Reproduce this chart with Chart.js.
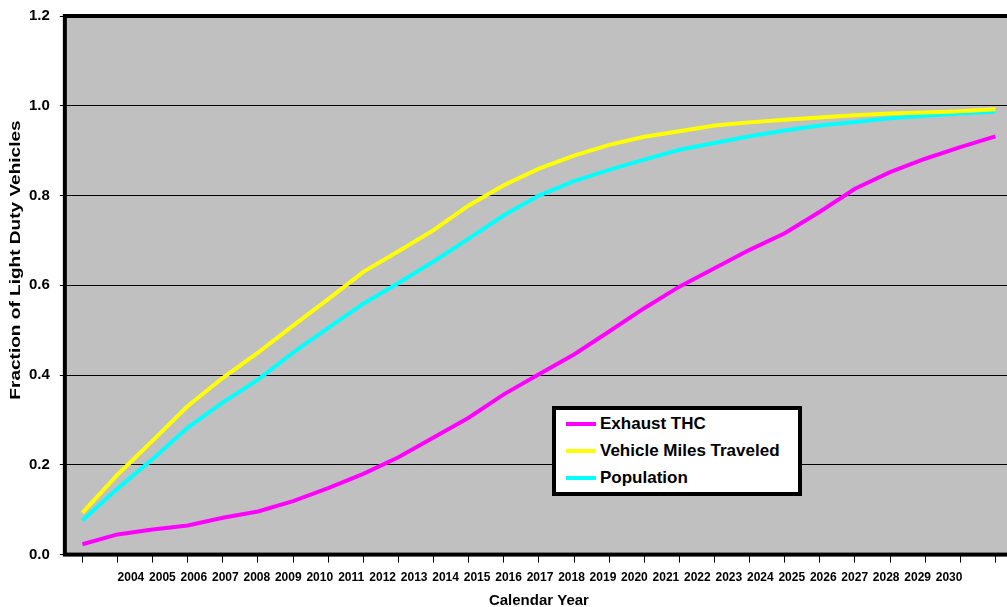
<!DOCTYPE html>
<html>
<head>
<meta charset="utf-8">
<script src="https://cdn.jsdelivr.net/npm/chart.js@4"></script>
<style>
    html, body { margin: 0; padding: 0; background: #fff; overflow: hidden; }
    #wrap { position: relative; width: 1016px; height: 610px; }
    #legend {
        position: absolute; left: 552px; top: 406px;
        width: 232px; height: 81px;
        border: 4px solid #000; background: #fff;
        padding: 1px 0 0 10px; box-sizing: content-box;
        font: bold 17px "Liberation Sans", Arial, sans-serif;
    }
    #legend .row { height: 26.7px; display: flex; align-items: center; white-space: nowrap; }
    #legend .swatch { width: 30px; height: 4px; margin-right: 4px; }
</style>
</head>
<body>
<div id="wrap">
    <canvas id="chart" width="1016" height="610"></canvas>
    <div id="legend"></div>
</div>
<script>
const years = ["2004", "2005", "2006", "2007", "2008", "2009", "2010", "2011", "2012",
    "2013", "2014", "2015", "2016", "2017", "2018", "2019", "2020", "2021", "2022",
    "2023", "2024", "2025", "2026", "2027", "2028", "2029", "2030"];

const exhaustTHC = [0.023, 0.045, 0.056, 0.065, 0.082, 0.096, 0.119, 0.148, 0.180,
    0.217, 0.261, 0.305, 0.357, 0.402, 0.446, 0.497, 0.549, 0.597, 0.638,
    0.679, 0.716, 0.764, 0.815, 0.852, 0.882, 0.908, 0.932];

const vehicleMiles = [0.093, 0.178, 0.254, 0.331, 0.394, 0.450, 0.510, 0.569, 0.630,
    0.676, 0.723, 0.778, 0.823, 0.860, 0.889, 0.913, 0.931, 0.943, 0.956,
    0.963, 0.969, 0.974, 0.979, 0.983, 0.985, 0.988, 0.992];

const population = [0.076, 0.147, 0.213, 0.283, 0.339, 0.390, 0.450, 0.505, 0.559,
    0.605, 0.653, 0.704, 0.756, 0.800, 0.832, 0.857, 0.880, 0.902, 0.917,
    0.932, 0.945, 0.956, 0.964, 0.972, 0.978, 0.983, 0.987];

// year labels sit on their own axis, squeezed like in the original picture
const labelAxisMin = 2001.9;
const labelAxisMax = 2032.03;

const FONT = "'Liberation Sans', Arial, sans-serif";

const plotFrame = {
    id: "plotFrame",
    beforeDraw(chart) {
        const { ctx, chartArea: a } = chart;
        ctx.save();
        ctx.fillStyle = "#C0C0C0";
        ctx.fillRect(a.left, a.top, a.right - a.left, a.bottom - a.top);
        ctx.restore();
    },
    afterDatasetsDraw(chart) {
        const { ctx, chartArea: a } = chart;
        ctx.save();
        ctx.strokeStyle = "#000";
        ctx.lineWidth = 4;
        ctx.strokeRect(a.left, a.top, a.right - a.left, a.bottom - a.top);
        ctx.restore();
    },
    afterDraw(chart) {
        // y title, stretched along its length like the original
        const ctx = chart.ctx;
        ctx.save();
        ctx.translate(16, 260);
        ctx.rotate(-Math.PI / 2);
        ctx.scale(1.36, 1);
        ctx.font = "bold 14px " + FONT;
        ctx.fillStyle = "#000";
        ctx.textAlign = "center";
        ctx.textBaseline = "middle";
        ctx.fillText("Fraction of Light Duty Vehicles", 0, 0);
        ctx.restore();
    }
};

const chart = new Chart(document.getElementById("chart").getContext("2d"), {
    type: "line",
    data: {
        labels: years,
        datasets: [
            { label: "Exhaust THC", data: exhaustTHC, borderColor: "#FF00FF" },
            { label: "Vehicle Miles Traveled", data: vehicleMiles, borderColor: "#FFFF00" },
            { label: "Population", data: population, borderColor: "#00FFFF" }
        ]
    },
    options: {
        responsive: false,
        animation: false,
        layout: { padding: { left: 19, top: 0, right: 3, bottom: 0 } },
        elements: {
            line: { borderWidth: 4, tension: 0, fill: false },
            point: { radius: 0 }
        },
        plugins: {
            legend: { display: false },
            tooltip: { enabled: false }
        },
        scales: {
            x: {
                type: "category",
                offset: true,
                border: { display: false },
                grid: { drawOnChartArea: false, color: "#000", lineWidth: 1, tickLength: 8 },
                ticks: { display: false }
            },
            x2: {
                type: "linear",
                position: "bottom",
                min: labelAxisMin,
                max: labelAxisMax,
                afterBuildTicks: axis => { axis.ticks = years.map(y => ({ value: Number(y) })); },
                border: { display: false },
                grid: { display: false, drawTicks: false },
                ticks: {
                    autoSkip: false, maxRotation: 0, padding: 7.5,
                    color: "#000", font: { family: FONT, size: 12, weight: "bold" },
                    callback: v => String(v)
                },
                title: {
                    display: true, text: "Calendar Year", color: "#000",
                    font: { family: FONT, size: 15, weight: "bold" },
                    padding: { top: 0, bottom: 0 }
                }
            },
            y: {
                min: 0,
                max: 1.2,
                border: { display: false },
                grid: { color: "#000", lineWidth: 1, tickLength: 5 },
                ticks: {
                    stepSize: 0.2, padding: 10, color: "#000",
                    font: { family: FONT, size: 15, weight: "bold", lineHeight: 0.8 },
                    callback: v => v.toFixed(1)
                }
            }
        }
    },
    plugins: [plotFrame]
});

// legend box built from the datasets
const legendBox = document.getElementById("legend");
chart.data.datasets.forEach(ds => {
    const row = document.createElement("div");
    row.className = "row";
    const sw = document.createElement("span");
    sw.className = "swatch";
    sw.style.background = ds.borderColor;
    const txt = document.createElement("span");
    txt.textContent = ds.label;
    row.appendChild(sw);
    row.appendChild(txt);
    legendBox.appendChild(row);
});
</script>
</body>
</html>
